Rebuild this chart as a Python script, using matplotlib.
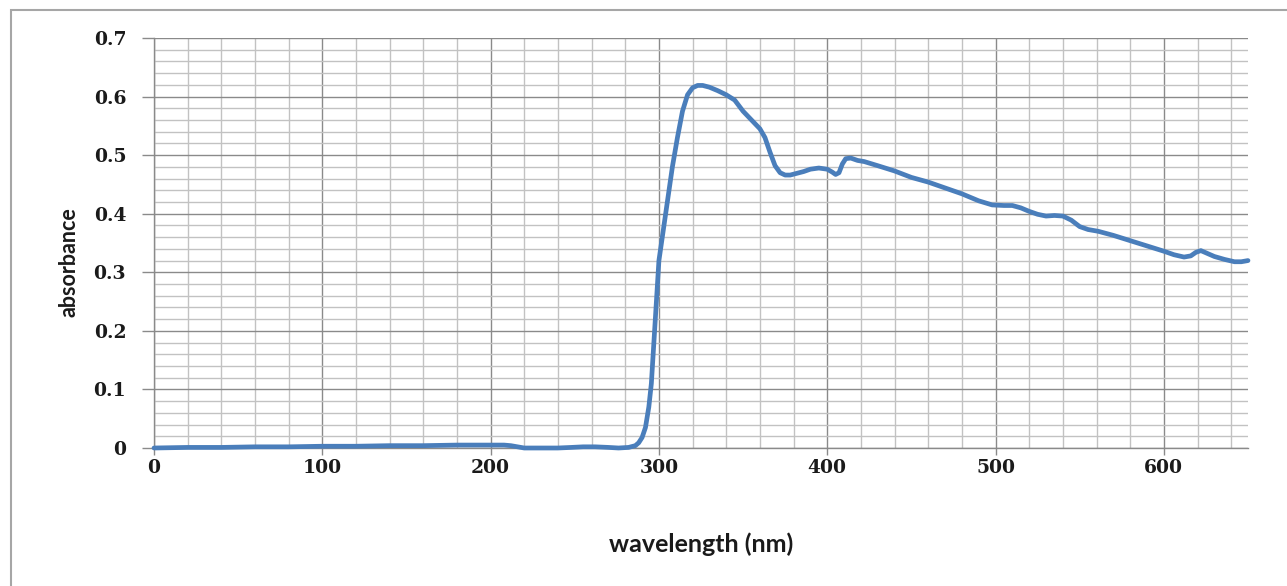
import matplotlib
matplotlib.use("Agg")
import matplotlib.pyplot as plt
from matplotlib.patches import Rectangle
from matplotlib.ticker import MultipleLocator

wavelength = [0, 20, 40, 60, 80, 100, 120, 140, 160, 180, 200, 208, 212, 216, 220,
              230, 240, 248, 255, 262, 270, 276, 282, 286, 288, 290, 292, 294, 295.5,
              297, 298.5, 300, 302, 305, 308, 311, 314, 317, 320, 323, 326, 330, 335,
              340, 345, 350, 355, 360, 363, 366, 369, 372, 375, 378, 382, 386, 390,
              395, 400, 403, 405, 407, 409, 411, 414, 418, 422, 430, 440, 450, 460,
              470, 480, 490, 498, 505, 510, 515, 520, 525, 530, 535, 540, 545, 550,
              555, 561, 570, 580, 590, 600, 606, 612, 616, 619, 622, 626, 630, 636,
              642, 646, 650]
absorbance = [0.000, 0.001, 0.001, 0.002, 0.002, 0.003, 0.003, 0.004, 0.004, 0.005, 0.005,
              0.005, 0.004, 0.002, 0.000, 0.000, 0.000, 0.001, 0.002, 0.002, 0.001,
              0.000, 0.001, 0.004, 0.009, 0.018, 0.035, 0.070, 0.110, 0.180, 0.250,
              0.320, 0.360, 0.420, 0.480, 0.530, 0.575, 0.603, 0.615, 0.619, 0.619,
              0.616, 0.610, 0.603, 0.594, 0.575, 0.560, 0.545, 0.530, 0.505, 0.482,
              0.470, 0.466, 0.466, 0.469, 0.472, 0.476, 0.478, 0.476, 0.471, 0.467,
              0.470, 0.485, 0.494, 0.495, 0.491, 0.489, 0.482, 0.473, 0.462, 0.454,
              0.444, 0.434, 0.422, 0.415, 0.414, 0.414, 0.410, 0.404, 0.399, 0.396,
              0.397, 0.396, 0.389, 0.378, 0.373, 0.370, 0.363, 0.354, 0.345, 0.336,
              0.330, 0.326, 0.328, 0.334, 0.337, 0.332, 0.327, 0.322, 0.318, 0.318,
              0.320]

x_ticks = [0, 100, 200, 300, 400, 500, 600]
y_ticks = [0, 0.1, 0.2, 0.3, 0.4, 0.5, 0.6, 0.7]
y_tick_labels = ["0", "0.1", "0.2", "0.3", "0.4", "0.5", "0.6", "0.7"]

W, H = 1287, 586
fig = plt.figure(figsize=(W / 100, H / 100), dpi=100)
fig.patch.set_facecolor("white")

# outer chart-area border
fig.patches.append(Rectangle((11 / W, -0.1), 1.2, 1.1 - 10 / H,
                             transform=fig.transFigure, fill=False,
                             edgecolor="#a6a6a6", linewidth=1.5))

ax = fig.add_axes([154 / W, 1 - 448 / H, (1248 - 154) / W, (448 - 38) / H])

ax.set_xlim(0, 650)
ax.set_ylim(0, 0.7)
ax.set_xticks(x_ticks)
ax.set_yticks(y_ticks)
ax.set_yticklabels(y_tick_labels)
ax.xaxis.set_minor_locator(MultipleLocator(20))
ax.yaxis.set_minor_locator(MultipleLocator(0.02))

ax.grid(which="major", color="#8a8a8a", linewidth=1.0)
ax.grid(which="minor", color="#c2c2c2", linewidth=1.0)
ax.set_axisbelow(True)

for s in ["top", "right"]:
    ax.spines[s].set_visible(False)
ax.spines["left"].set_color("#8a8a8a")
ax.spines["bottom"].set_color("#8a8a8a")
ax.spines["left"].set_linewidth(1.0)
ax.spines["bottom"].set_linewidth(1.0)

ax.tick_params(which="major", axis="y", length=9, width=1, color="#8a8a8a", pad=11)
ax.tick_params(which="major", axis="x", length=5, width=1, color="#8a8a8a", pad=3)
ax.tick_params(which="minor", length=0)

for lab in ax.get_xticklabels() + ax.get_yticklabels():
    lab.set_fontfamily("DejaVu Serif")
    lab.set_fontweight("bold")
    lab.set_fontsize(13.5)
    lab.set_color("#1a1a1a")

ax.plot(wavelength, absorbance, color="#4a7ebb", linewidth=3.4,
        solid_joinstyle="round", solid_capstyle="round", clip_on=False, zorder=3)

ax.set_xlabel("wavelength (nm)", fontfamily="Lato", fontweight="bold",
              fontsize=18, color="#1a1a1a")
ax.set_ylabel("absorbance", fontfamily="Lato", fontweight="bold",
              fontsize=15.5, color="#1a1a1a")
ax.xaxis.set_label_coords(0.5, -0.207)
ax.yaxis.set_label_coords(-0.068, 0.454)

fig.savefig("out.png", dpi=100, facecolor="white")
